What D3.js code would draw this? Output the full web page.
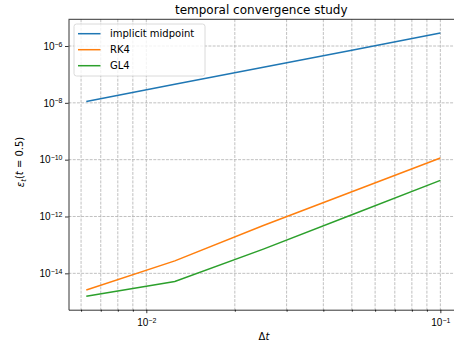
<!DOCTYPE html>
<html>
<head>
<meta charset="utf-8">
<script src="https://cdn.jsdelivr.net/npm/d3@7"></script>
<style>
  body { margin: 0; background: #fff; }
  svg { font-family: "DejaVu Sans", sans-serif; }
</style>
</head>
<body>
<div id="chart"></div>
<script>
// DATA ------------------------------
const dt = [0.1, 0.05, 0.025, 0.0125, 0.00625];
const midpoint = [2.86e-6, 7.15e-7, 1.79e-7, 4.47e-8, 1.12e-8];
const rk4 = [1.14e-10, 7.4e-12, 4.8e-13, 2.75e-14, 2.6e-15];
const gl4 = [1.87e-11, 1.15e-12, 7.1e-14, 5.2e-15, 1.55e-15];
const seriesNames = ["implicit midpoint", "RK4", "GL4"];
const seriesColors = ["#1f77b4", "#ff7f0e", "#2ca02c"];
const xTickExps = [-2, -1];
const yTickExps = [-14, -12, -10, -8, -6];

// CHART INIT ------------------------------
const W = 454, H = 351;
const margin = ({top: 19.3, right: -4, bottom: 41.3, left: 68.5});
const width = W - margin.left - margin.right;
const height = H - margin.top - margin.bottom;

let svgRoot = d3.select('#chart').append('svg')
  .attr('width', W)
  .attr('height', H);
let svg = svgRoot.append('g')
  .attr("transform", "translate(" + margin.left + "," + margin.top + ")");

let xScale = d3.scaleLog()
  .domain([Math.pow(10, -2.2646), Math.pow(10, -0.940)])
  .range([0, width]);
let yScale = d3.scaleLog()
  .domain([Math.pow(10, -15.28), Math.pow(10, -5.06)])
  .range([height, 0]);

// minor x ticks
let xMinor = [];
for (let e = -3; e <= -1; e++) {
  for (let m = 2; m <= 9; m++) {
    let v = m * Math.pow(10, e);
    if (v > xScale.domain()[0] && v < xScale.domain()[1]) xMinor.push(v);
  }
}
const xMajor = xTickExps.map(e => Math.pow(10, e));
const yMajor = yTickExps.map(e => Math.pow(10, e));

// grid
let grid = svg.append("g").attr("class", "grid")
  .attr("stroke", "#b0b0b0").attr("stroke-width", 0.8)
  .attr("stroke-dasharray", "2.96,1.28");
grid.selectAll("line.gx").data(xMajor.concat(xMinor)).enter().append("line")
  .attr("x1", d => xScale(d)).attr("x2", d => xScale(d))
  .attr("y1", 0).attr("y2", height);
grid.selectAll("line.gy").data(yMajor).enter().append("line")
  .attr("x1", 0).attr("x2", width)
  .attr("y1", d => yScale(d)).attr("y2", d => yScale(d));

// lines
const allSeries = [midpoint, rk4, gl4];
let line = d3.line().x((d, i) => xScale(dt[i])).y(d => yScale(d));
svg.selectAll("path.series").data(allSeries).enter().append("path")
  .attr("class", "series")
  .attr("fill", "none")
  .attr("stroke", (d, i) => seriesColors[i])
  .attr("stroke-width", 1.5)
  .attr("d", line);

// axes
function supLabel(sel, exp) {
  sel.text(null);
  sel.append("tspan").text("10");
  sel.append("tspan").attr("dy", "-0.45em").attr("font-size", "7px").text("\u2212" + Math.abs(exp));
}

let xAxis = d3.axisBottom(xScale).tickValues(xMajor).tickSize(3.5).tickSizeOuter(0).tickFormat("");
let xAxisGroup = svg.append("g").attr("transform", "translate(0," + height + ")").call(xAxis);
xAxisGroup.selectAll(".tick").append("text")
  .attr("fill", "#000").attr("y", 9).attr("dy", "0.71em").attr("font-size", "10px")
  .attr("text-anchor", "middle")
  .each(function(d) { supLabel(d3.select(this), Math.round(Math.log10(d))); });
let xMinorAxis = d3.axisBottom(xScale).tickValues(xMinor).tickSize(2).tickFormat("");
svg.append("g").attr("transform", "translate(0," + height + ")").call(xMinorAxis)
  .select(".domain").remove();

let yAxis = d3.axisLeft(yScale).tickValues(yMajor).tickSize(3.5).tickSizeOuter(0).tickFormat("");
let yAxisGroup = svg.append("g").call(yAxis);
yAxisGroup.selectAll(".tick").append("text")
  .attr("fill", "#000").attr("x", -6).attr("dy", "0.32em").attr("font-size", "10px")
  .attr("text-anchor", "end")
  .each(function(d) { supLabel(d3.select(this), Math.round(Math.log10(d))); });

svg.selectAll(".domain").attr("stroke", "#000").attr("stroke-width", 0.8);
svg.selectAll(".tick line").attr("stroke", "#000").attr("stroke-width", 0.8);

// top spine
svg.append("line").attr("x1", 0).attr("x2", width).attr("y1", 0).attr("y2", 0)
  .attr("stroke", "#000").attr("stroke-width", 0.8);

// title and labels
svgRoot.append("text")
  .attr("x", margin.left + (xScale(Math.pow(10, -0.940)) ) / 2 - 2)
  .attr("y", 14)
  .attr("text-anchor", "middle")
  .attr("font-size", "12px")
  .text("temporal convergence study");

let xl = svgRoot.append("text")
  .attr("x", 264).attr("y", 340)
  .attr("text-anchor", "middle").attr("font-size", "10px");
xl.append("tspan").text("\u0394");
xl.append("tspan").attr("font-style", "italic").text("t");

let yl = svgRoot.append("text")
  .attr("transform", "translate(24,162) rotate(-90)")
  .attr("text-anchor", "middle").attr("font-size", "10px");
yl.append("tspan").attr("font-style", "italic").text("\u03b5");
yl.append("tspan").attr("font-style", "italic").attr("font-size", "7px").attr("dy", "0.3em").text("t");
yl.append("tspan").attr("dy", "-0.3em").text("(");
yl.append("tspan").attr("font-style", "italic").text("t");
yl.append("tspan").text(" = 0.5)");

// legend
let legend = svg.append("g").attr("transform", "translate(5.5,4.7)");
legend.append("rect")
  .attr("width", 131).attr("height", 52).attr("rx", 2.5)
  .attr("fill", "#fff").attr("fill-opacity", 0.8)
  .attr("stroke", "#d0d0d0").attr("stroke-width", 0.8);
let items = legend.selectAll("g.item").data(seriesNames).enter().append("g")
  .attr("transform", (d, i) => "translate(0," + (9.7 + i * 16) + ")");
items.append("line")
  .attr("x1", 4).attr("x2", 26.5)
  .attr("stroke", (d, i) => seriesColors[i]).attr("stroke-width", 1.5);
items.append("text")
  .attr("x", 36).attr("dy", "0.35em").attr("font-size", "10px")
  .text(d => d);
</script>
</body>
</html>
